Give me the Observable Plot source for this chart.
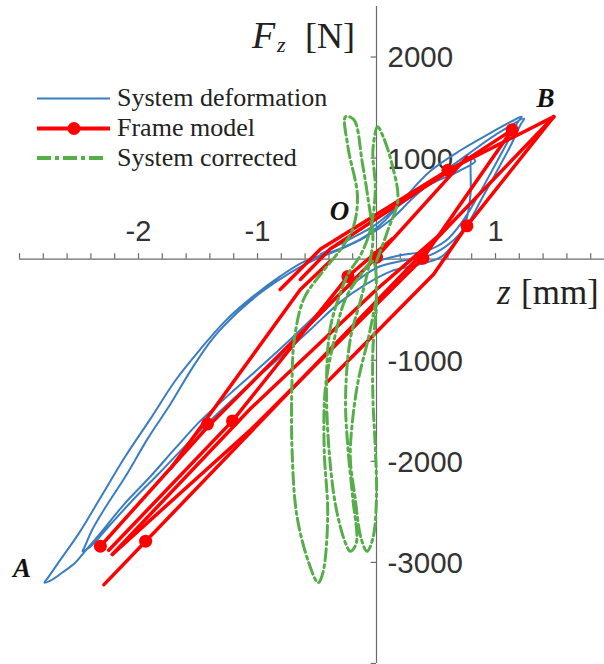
<!DOCTYPE html>
<html><head><meta charset="utf-8">
<script src="https://cdn.jsdelivr.net/npm/d3@7"></script>
<script src="https://cdn.jsdelivr.net/npm/@observablehq/plot@0.6"></script>
<style>body{margin:0;background:#fff;}</style>
</head><body><div id="chart"></div>
<script>
// ---- data (z in mm, F in N) ----
const systemDeformation = [
 [0,-20],[0.20,40],[0.41,80],[0.58,180],[0.72,370],[0.86,640],[1.00,940],[1.11,1180],[1.19,1360],[1.22,1410],
 [1.13,1360],[0.96,1250],[0.71,1080],[0.45,870],[0.24,610],[0.06,370],[-0.13,200],[-0.36,80],[-0.60,-20],[-0.81,-170],
 [-1.06,-390],[-1.27,-610],[-1.48,-890],[-1.69,-1200],[-1.90,-1580],[-2.11,-1950],[-2.32,-2360],[-2.50,-2710],[-2.66,-2980],[-2.76,-3150],[-2.79,-3200],
 [-2.74,-3180],[-2.64,-3100],[-2.53,-3000],[-2.45,-2890],[-2.32,-2710],[-2.11,-2410],[-1.90,-2150],[-1.69,-1870],[-1.48,-1600],[-1.23,-1330],
 [-0.97,-1060],[-0.72,-790],[-0.47,-510],[-0.26,-300],[-0.09,-150],[0.03,-70],[0.20,-20],[0.45,40],[0.62,160],[0.76,340],[0.89,610],
 [1.03,910],[1.13,1130],[1.21,1330],[1.24,1390],
 [1.00,1230],[0.77,1040],[0.54,840],[0.31,610],[0.12,390],[-0.09,220],[-0.30,100],[-0.51,0],[-0.72,-130],[-0.96,-320],
 [-1.18,-540],[-1.38,-790],[-1.55,-1080],[-1.73,-1430],[-1.92,-1770],[-2.11,-2150],[-2.28,-2460],[-2.39,-2680],[-2.45,-2840],[-2.47,-2890],
 [-2.40,-2840],[-2.24,-2630],[-2.03,-2360],[-1.82,-2110],[-1.56,-1790],[-1.31,-1500],[-1.06,-1230],[-0.81,-970],[-0.55,-690],
 [-0.30,-420],[-0.09,-250],[0.12,-120],[0.33,-60],[0.54,20],[0.66,170],[0.75,370],[0.79,640],[0.80,1000],[0.83,970],
 [0.69,870],[0.45,740],[0.20,540],[-0.01,340],[-0.22,200],[-0.47,50]
];
const frameSegment = [1,1, 2,2,2,2, 3,3,3, 4,4,4,4, 5,5,5,5, 6,6,6,6, 7,7,7,7, 8,8,8,8, 9,9,9];
const frameZ = [-2.29,1.49, 1.49,0.60,-0.47,-0.81, 1.14,-0.39,-0.64, 1.49,0.76,0.48,-0.41, 1.14,0.39,-1.06,-2.22, -2.32,-1.42,0,0.76, -2.25,-1.21,-0.24,0.13,
  -2.22,-1.06,0,0.54, -1.73,-0.64,-0.39];
const frameF = [-3220,1410, 1410,880,100,-300, 1280,100,-200, 1410,330,-150,-1210, 1280,10,-1690,-2920, -2840,-1660,20,1010, -2880,-1600,-170,200,
  -2920,-1480,-300,250, -2070,-300,-20];
const frameMarkerZ = [-2.32,-1.94,-1.42,-1.21,-0.24,0.00,0.39,0.76,0.60,1.14];
const frameMarkerF = [-2840,-2790,-1630,-1600,-170,20,10,330,880,1280];
const systemCorrected = [
 [0,-20],[0.10,300],[0.18,590],[0.13,940],[0.06,1200],[0.01,1310],[-0.03,1080],[-0.01,690],[-0.05,300],[-0.13,50],
 [-0.24,-150],[-0.32,-390],[-0.39,-690],[-0.42,-1210],[-0.40,-1870],[-0.34,-2460],[-0.26,-2810],[-0.22,-2890],
 [-0.17,-2810],[-0.20,-2360],[-0.24,-1870],[-0.26,-1380],[-0.22,-790],[-0.13,-390],[-0.07,-100],[-0.03,200],
 [-0.07,590],[-0.12,960],[-0.19,1380],[-0.26,1410],[-0.24,1110],[-0.16,620],[-0.20,300],[-0.30,100],[-0.47,-150],
 [-0.61,-390],[-0.69,-790],[-0.71,-1210],[-0.71,-1870],[-0.67,-2530],[-0.57,-3000],[-0.49,-3200],
 [-0.45,-3100],[-0.41,-2530],[-0.44,-1870],[-0.43,-1280],[-0.36,-820],[-0.26,-390],[-0.13,-150],[-0.03,-20],
 [0,-390],[-0.03,-890],[-0.03,-1380],[-0.01,-1870],[0,-2360],[-0.03,-2760],[-0.08,-2890],
 [-0.13,-2760],[-0.18,-2360],[-0.22,-1970],[-0.20,-1580],[-0.15,-1180],[-0.07,-790],[0,-390]
];
const xTicks = [-3,-2.8,-2.6,-2.4,-2.2,-2,-1.8,-1.6,-1.4,-1.2,-1,-0.8,-0.6,-0.4,-0.2,0,0.2,0.4,0.6,0.8,1,1.2,1.4,1.6,1.8];
const xTickLabels = [-2,-1,1];
const yTicks = [2000,1000,0,-1000,-2000,-3000,-4000];
const yTickLabels = [2000,1000,-1000,-2000,-3000];
const pointLabels = [{z:-2.98,F:-3060,t:"A"},{z:1.42,F:1590,t:"B"},{z:-0.31,F:470,t:"O"}];
const seriesNames = ["System deformation","Frame model","System corrected"];

// ---- styles ----
const BLUE = "#3b7dc1", RED = "#ff0000", GREEN = "#55ae48", AX = "#6b6b6b";
const sans = "Liberation Sans, Arial, sans-serif";
const serif = "Liberation Serif, Times New Roman, serif";

const frame = frameZ.map((z,i)=>({z, F: frameF[i], s: frameSegment[i]}));
const markers = frameMarkerZ.map((z,i)=>({z, F: frameMarkerF[i]}));

const svg = Plot.plot({
  width: 604, height: 664, margin: 0,
  x: {domain: [-3, 2], range: [19, 614], axis: null},
  y: {domain: [-4000, 2500], range: [663, 6], axis: null},
  style: {background: "white", overflow: "visible"},
  marks: [
    Plot.ruleY([0], {x1: -3, x2: 2, stroke: AX, strokeWidth: 1.2}),
    Plot.ruleX(xTicks, {x: d=>d, y1: 0, y2: 55, stroke: AX, strokeWidth: 1.2}),
    Plot.ruleX([0], {y1: -4000, y2: 2500, stroke: AX, strokeWidth: 1.2}),
    Plot.ruleY(yTicks, {y: d=>d, x1: -0.045, x2: 0, stroke: AX, strokeWidth: 1.2}),
    Plot.text(xTickLabels, {x: d=>d, y: 0, text: d=>String(d), dy: -27, fontSize: 29, fill: "#333", fontFamily: sans}),
    Plot.text(yTickLabels, {x: 0, y: d=>d, text: d=>String(d), dx: 11, dy: 1, textAnchor: "start", fontSize: 29.5, fill: "#333", fontFamily: sans}),
    Plot.line(systemDeformation, {x: d=>d[0], y: d=>d[1], stroke: BLUE, strokeWidth: 2, curve: "catmull-rom"}),
    Plot.line(frame, {x: "z", y: "F", z: "s", stroke: RED, strokeWidth: 3.5}),
    Plot.dot(markers, {x: "z", y: "F", r: 6.5, fill: RED}),
    Plot.line(systemCorrected, {x: d=>d[0], y: d=>d[1], stroke: GREEN, strokeWidth: 3, strokeDasharray: "12,4,3,4", curve: "catmull-rom"}),
    Plot.text(pointLabels, {x: "z", y: "F", text: "t", fontSize: 27, fontWeight: "bold", fontStyle: "italic", fontFamily: serif, fill: "#111"})
  ]
});

const s = d3.select(svg);
// axis titles
const t1 = s.append("g").attr("font-family", serif).attr("fill", "#222").attr("text-anchor", "start");
t1.append("text").attr("x", 252).attr("y", 48).attr("font-size", 38).attr("font-style", "italic").text("F");
t1.append("text").attr("x", 277).attr("y", 52).attr("font-size", 22).attr("font-style", "italic").text("z");
t1.append("text").attr("x", 305).attr("y", 48).attr("font-size", 36).text("[N]");
t1.append("text").attr("x", 497).attr("y", 304).attr("font-size", 35).attr("font-style", "italic").text("z");
t1.append("text").attr("x", 521).attr("y", 304).attr("font-size", 35).text("[mm]");

// legend
const lg = s.append("g").attr("text-anchor", "start");
const rows = [98.5, 128.5, 158];
lg.append("line").attr("x1", 37).attr("x2", 110).attr("y1", rows[0]).attr("y2", rows[0]).attr("stroke", BLUE).attr("stroke-width", 2);
lg.append("line").attr("x1", 37).attr("x2", 110).attr("y1", rows[1]).attr("y2", rows[1]).attr("stroke", RED).attr("stroke-width", 4);
lg.append("circle").attr("cx", 74).attr("cy", rows[1]).attr("r", 6.5).attr("fill", RED);
lg.append("line").attr("x1", 37).attr("x2", 107).attr("y1", rows[2]).attr("y2", rows[2]).attr("stroke", GREEN).attr("stroke-width", 4).attr("stroke-dasharray", "14,4,4,4");
seriesNames.forEach((n,i)=>{
  lg.append("text").attr("x", 117).attr("y", rows[i] + 7.5).attr("font-family", serif).attr("font-size", 26).attr("fill", "#222").text(n);
});

document.getElementById("chart").appendChild(svg);
</script>
</body></html>
